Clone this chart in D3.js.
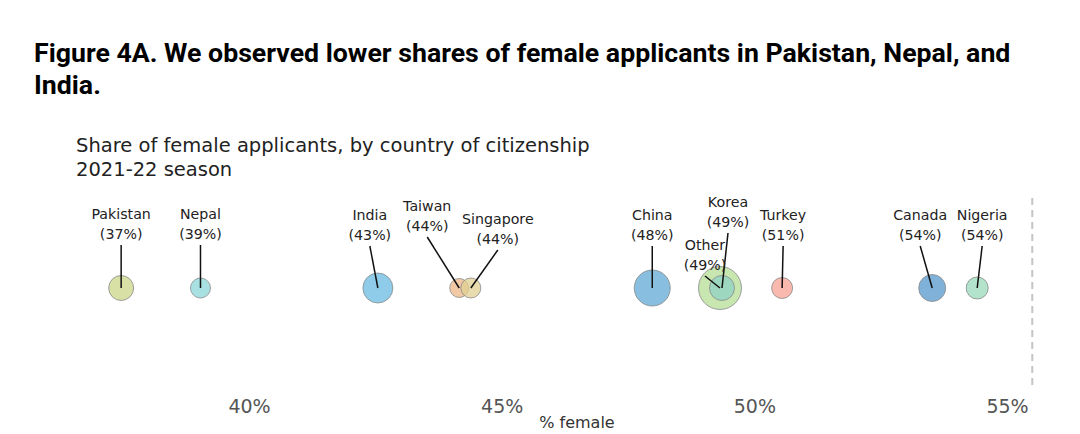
<!DOCTYPE html>
<html>
<head>
<meta charset="utf-8">
<script src="https://cdn.jsdelivr.net/npm/d3@7"></script>
<style>
  body { margin: 0; background: #fff; }
  svg { display: block; }
</style>
</head>
<body>
<div id="chart"></div>
<script>
// data
const countries  = ["Pakistan","Nepal","India","Taiwan","Singapore","China","Other","Korea","Turkey","Canada","Nigeria"];
const pctFemale  = [37.47, 39.04, 42.55, 44.16, 44.39, 47.98, 49.32, 49.36, 50.55, 53.52, 54.41];
const applicants = [1560, 1000, 2250, 900, 1000, 3240, 4620, 1560, 1100, 1820, 1210];
const colors     = ["#ccd688","#8cd7da","#6abbe2","#eeb787","#e0d093","#60aad6","#b6de96","#90d1c5","#f7a293","#5697cc","#9bdabb"];
const tickValues = [40, 45, 50, 55];

// label placement relative to bubble centre (layout only)
const labelOffset = {
  Pakistan:  [0, -69],  Nepal:   [0, -69],  India:  [-8, -68],
  Taiwan:    [-32, -77], Singapore: [27, -64], China: [0, -68],
  Other:     [-15, -38], Korea:  [6, -81],  Turkey: [1, -68],
  Canada:    [-12, -68], Nigeria: [5, -68]
};

const width = 1080, height = 434;
const rowY = 288;

const x = d3.scaleLinear().domain([40, 55]).range([249, 1007]);
const r = d3.scaleSqrt().domain([0, d3.max(applicants)]).range([0, 21.5]);

const data = countries.map((c, i) => ({name: c, pct: pctFemale[i], n: applicants[i], color: colors[i]}));

const svg = d3.select("#chart").append("svg")
  .attr("width", width)
  .attr("height", height);

// title
svg.append("text")
  .attr("x", 34).attr("y", 62)
  .style("font-family", "Roboto").style("font-weight", 700).style("font-size", "26.7px")
  .attr("fill", "#000")
  .text("Figure 4A. We observed lower shares of female applicants in Pakistan, Nepal, and");
svg.append("text")
  .attr("x", 34).attr("y", 94)
  .style("font-family", "Roboto").style("font-weight", 700).style("font-size", "26.7px")
  .attr("fill", "#000")
  .text("India.");

// subtitle
const sub = svg.append("text")
  .attr("x", 76).attr("y", 152)
  .style("font-family", "DejaVu Sans").style("font-size", "19.5px")
  .attr("fill", "#222");
sub.append("tspan").attr("x", 76).text("Share of female applicants, by country of citizenship");
sub.append("tspan").attr("x", 76).attr("dy", 24).text("2021-22 season");

// dashed right edge
svg.append("line")
  .attr("x1", x(55.5)).attr("x2", x(55.5))
  .attr("y1", 198).attr("y2", 386)
  .attr("stroke", "#c4c4c4").attr("stroke-width", 2)
  .attr("stroke-dasharray", "7,5");

// x axis, labels only
const axis = svg.append("g")
  .attr("transform", "translate(0,396)")
  .call(d3.axisBottom(x).tickValues(tickValues).tickSize(0).tickFormat(d => d + "%"));
axis.select(".domain").remove();
axis.selectAll("text")
  .attr("dy", 0).attr("y", 17)
  .style("font-family", "DejaVu Sans").style("font-size", "19px")
  .attr("fill", "#555");

svg.append("text")
  .attr("x", 577).attr("y", 428)
  .attr("text-anchor", "middle")
  .style("font-family", "DejaVu Sans").style("font-size", "16px")
  .attr("fill", "#333")
  .text("% female");

// bubbles
svg.append("g").selectAll("circle")
  .data(data)
  .join("circle")
    .attr("cx", d => x(d.pct))
    .attr("cy", rowY)
    .attr("r", d => r(d.n))
    .attr("fill", d => d.color)
    .attr("fill-opacity", 0.75)
    .attr("stroke", "#8a8a8a")
    .attr("stroke-opacity", 0.8)
    .attr("stroke-width", 1);

// leader lines
svg.append("g").selectAll("line")
  .data(data)
  .join("line")
    .attr("x1", d => x(d.pct))
    .attr("y1", rowY)
    .attr("x2", d => x(d.pct) + labelOffset[d.name][0])
    .attr("y2", d => rowY + labelOffset[d.name][1] + 26)
    .attr("stroke", "#111")
    .attr("stroke-width", 1.5);

// labels
const lab = svg.append("g").selectAll("text")
  .data(data)
  .join("text")
    .attr("text-anchor", "middle")
    .style("font-family", "DejaVu Sans").style("font-size", "14.2px")
    .attr("fill", "#222");
lab.append("tspan")
  .attr("x", d => x(d.pct) + labelOffset[d.name][0])
  .attr("y", d => rowY + labelOffset[d.name][1])
  .text(d => d.name);
lab.append("tspan")
  .attr("x", d => x(d.pct) + labelOffset[d.name][0])
  .attr("dy", 19.5)
  .text(d => "(" + Math.round(d.pct) + "%)");
</script>
</body>
</html>
